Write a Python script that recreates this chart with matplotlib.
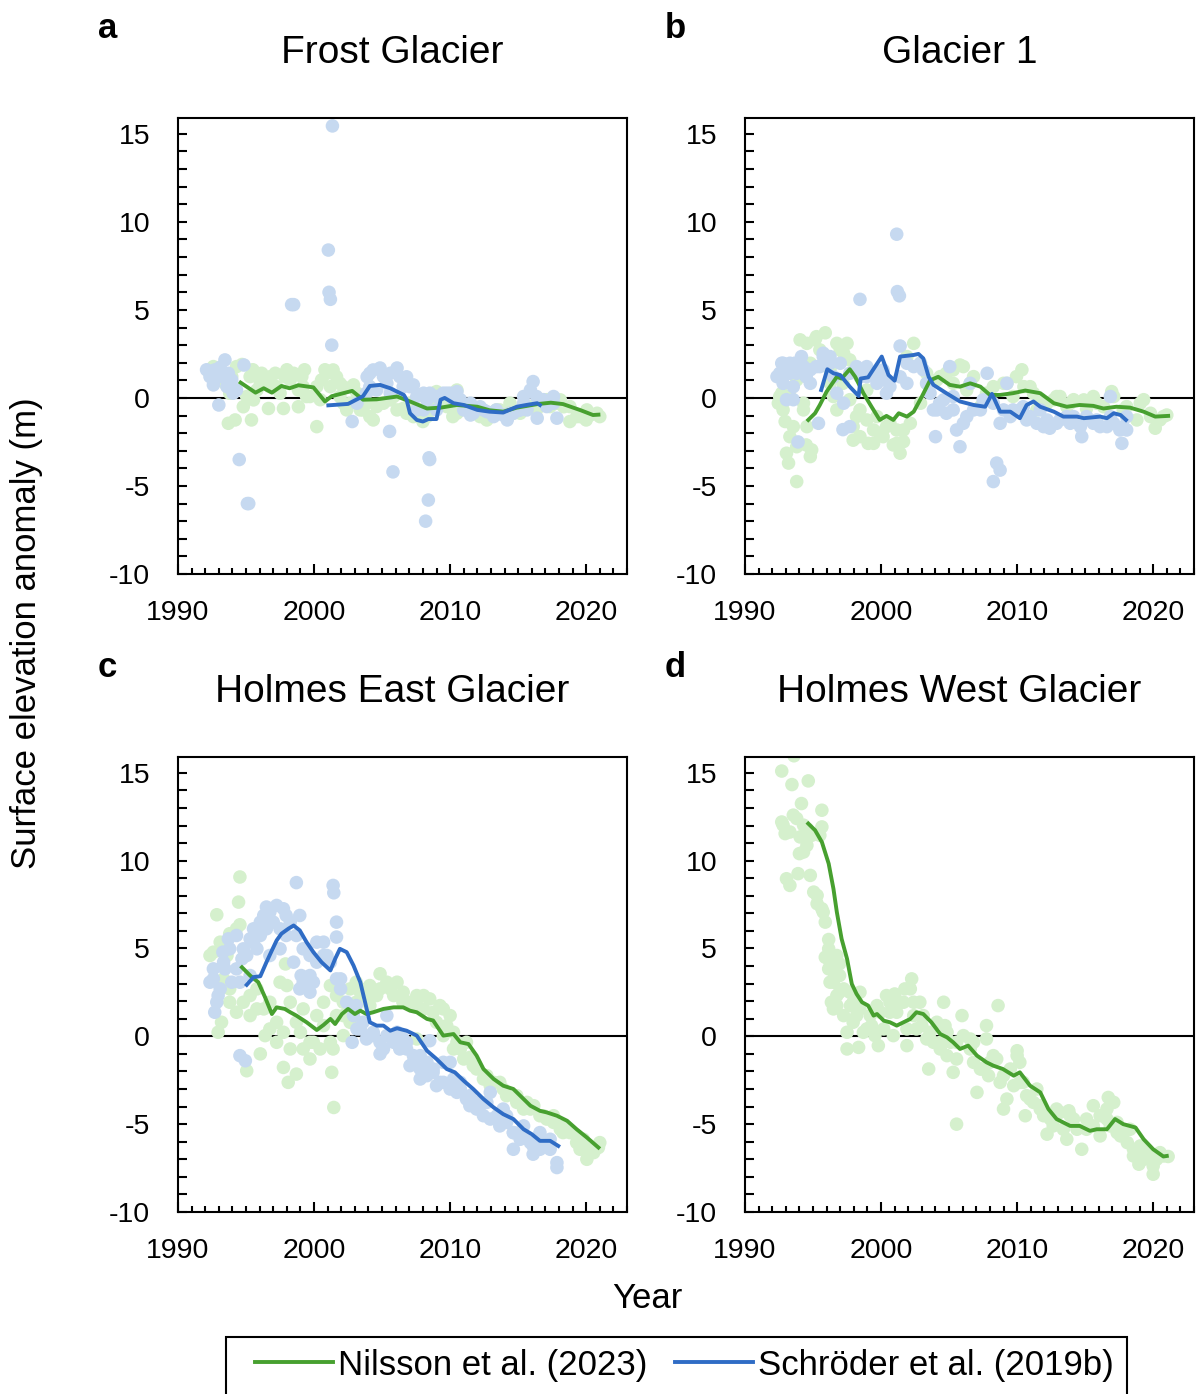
import numpy as np
import matplotlib.pyplot as plt
from matplotlib.ticker import MultipleLocator
from matplotlib.lines import Line2D
from matplotlib.patches import Rectangle

plt.rcParams['font.family'] = ['Liberation Sans', 'DejaVu Sans']
plt.rcParams['axes.unicode_minus'] = False

# ---- data: (year, anomaly in m) ----
titles = ['Frost Glacier', 'Glacier 1', 'Holmes East Glacier', 'Holmes West Glacier']
letters = ['a', 'b', 'c', 'd']
legend_labels = ['Nilsson et al. (2023)', 'Schröder et al. (2019b)']

# Frost Glacier
a_nil_pts = [(1992.35, 1.4), (1993.7, -1.44), (1994.2, -1.25), (1995.4, -1.25), (1994.8, -0.5), (1995.8, 1.4),
             (1996.75, 1.2), (1996.65, -0.6), (1997.75, -0.6), (1998.0, 1.6), (1998.85, -0.5), (1999.3, 1.6),
             (2000.2, -1.63), (2000.8, 1.6), (2001.65, 1.2), (2002.15, 0.64), (2002.9, 0.74), (2004.35, -1.25),
             (2003.4, -0.68), (2006.55, -0.6), (2008.0, -1.34), (2009.0, 0.36), (2010.2, -1.06), (2010.5, 0.45),
             (2012.7, -1.25), (2014.4, -0.3), (2018.8, -1.34), (2020.0, -1.25), (2020.8, -0.87), (2018.35, -0.5),
             (2017.1, -0.1), (1993.1, 1.2), (1993.8, 0.27), (1995.05, 0.08), (1996.05, 0.83), (1997.25, 0.64),
             (1998.25, 1.02), (1999.2, 0.64), (1999.7, 0.08), (2000.45, -0.1), (2001.2, 0.64), (2001.9, 0.08),
             (2002.65, -0.3), (2003.85, -0.3), (2005.1, -0.3), (2005.85, 0.08), (2007.05, -0.3), (2007.55, -0.87),
             (2008.8, 0.27), (2009.5, -0.3), (2011.0, -0.5), (2012.0, -0.87), (2013.4, -0.68), (2014.65, -0.87),
             (2015.9, -0.5), (2016.85, -0.1), (2017.85, -0.3), (2019.3, -1.06), (2020.3, -0.97), (1994.7, 1.9),
             (1995.5, 1.6), (1992.6, 1.78), (1992.85, 1.02), (1993.45, 0.83), (1993.95, 1.21), (1994.3, 1.78),
             (1995.3, 1.21), (1995.8, 0.45), (1995.55, -0.11), (1996.15, 1.4), (1996.75, 0.64), (1997.15, 1.4),
             (1997.5, 0.27), (1997.85, 1.21), (1998.5, 1.4), (1998.85, 0.45), (1999.1, 1.21), (1999.45, 0.08),
             (2000.2, 0.64), (2000.55, 1.02), (2000.95, 1.4), (2001.4, 1.59), (2001.9, 0.83), (2002.15, -0.3),
             (2002.4, -0.68), (2003.15, 0.27), (2003.6, -0.68), (2004.1, -1.06), (2004.6, -0.49), (2005.6, -0.11),
             (2006.1, -0.68), (2006.8, -0.87), (2007.3, -1.06), (2007.8, -0.68), (2008.3, -1.06), (2008.8, -0.3),
             (2009.25, 0.08), (2009.75, -0.49), (2010.5, -0.87), (2011.45, -0.68), (2012.2, -1.06), (2012.95, -0.87),
             (2013.65, -0.68), (2014.15, -1.06), (2015.15, -0.87), (2016.35, -0.68), (2017.35, -0.49),
             (2018.1, -0.11), (2018.8, -0.49), (2019.55, -1.06), (2020.05, -0.68), (2021.0, -1.06)]
a_sch_pts = [(2001.35, 15.45), (2001.05, 8.4), (2001.1, 6.0), (2001.2, 5.6), (2001.3, 3.0), (1998.35, 5.3),
             (1998.5, 5.3), (1993.1, 1.74), (1993.45, 2.16), (1992.6, 0.74), (1993.0, -0.4), (1994.3, 0.45),
             (1994.85, 1.87), (1994.5, -3.5), (1995.1, -6.0), (1995.2, -6.0), (2002.8, -1.34), (2005.55, -1.9),
             (2005.8, -4.2), (2008.5, -3.5), (2008.45, -3.4), (2008.4, -5.8), (2008.2, -7.0), (2004.1, 1.4),
             (2004.85, 1.7), (2006.1, 1.7), (2006.8, 1.2), (2007.3, 0.74), (2005.35, 0.83), (2003.9, 1.2),
             (2010.0, 0.27), (2010.5, 0.36), (2008.5, 0.27), (2011.5, -0.97), (2014.2, -1.25), (2016.1, 0.93),
             (2015.9, 0.45), (2016.4, -1.15), (2017.6, 0.08), (2017.85, -1.15), (2015.1, -0.7), (2012.7, -0.78),
             (2011.5, -0.3), (2003.15, -0.3), (2004.6, 0.45), (2006.55, 0.64), (2007.55, 0.08), (2008.05, -0.68),
             (2009.0, -0.68), (2009.5, 0.27), (2010.75, -0.1), (2012.2, -0.5), (2013.4, -0.68), (2014.4, -0.87),
             (2015.4, -0.3), (2016.85, -0.1), (1992.1, 1.6), (1993.7, 1.4), (1994.05, 0.27), (1992.35, 1.21),
             (1992.7, 1.59), (1993.2, 1.21), (1993.6, 0.64), (1993.95, 1.02), (2004.1, 0.64), (2004.35, 1.59),
             (2005.1, 1.21), (2005.6, 1.4), (2006.3, 1.21), (2007.05, 0.64), (2003.85, 0.27), (2005.6, 0.27),
             (2008.3, -0.11), (2009.0, 0.08), (2009.75, 0.27), (2010.25, -0.11), (2011.0, -0.68), (2011.7, -0.87),
             (2012.45, -0.68), (2013.2, -1.06), (2013.9, -0.97), (2014.65, -0.87), (2015.65, -0.68),
             (2016.35, 0.08), (2017.1, -0.49), (2017.6, -0.3), (2015.4, 0.08), (2007.55, -0.68), (2008.05, 0.27)]
a_nil_line = [(1994.6, 0.87), (1995.7, 0.3), (1996.3, 0.55), (1996.9, 0.3), (1997.6, 0.68), (1998.2, 0.55),
              (1998.85, 0.72), (1999.95, 0.6), (2000.8, -0.2), (2001.3, 0.1), (2002.8, 0.4), (2003.6, -0.1),
              (2004.6, -0.08), (2006.1, 0.08), (2007.05, -0.2), (2008.3, -0.6), (2009.3, -0.55), (2010.5, -0.4),
              (2012.0, -0.5), (2012.9, -0.7), (2013.9, -0.78), (2014.9, -0.55), (2016.4, -0.35), (2017.4, -0.27),
              (2018.3, -0.35), (2019.6, -0.7), (2020.5, -0.97), (2020.9, -0.95)]
a_sch_line = [(2001.05, -0.42), (2002.5, -0.34), (2003.1, -0.1), (2003.6, 0.1), (2004.1, 0.68), (2004.85, 0.74),
              (2005.6, 0.55), (2006.6, 0.17), (2006.8, -0.1), (2007.05, -0.87), (2007.55, -1.25), (2008.0, -1.34),
              (2008.4, -1.2), (2009.0, -1.2), (2009.3, -0.1), (2009.6, 0.0), (2010.25, -0.3), (2011.0, -0.4),
              (2012.0, -0.68), (2012.9, -0.78), (2013.9, -0.83), (2014.9, -0.5), (2015.6, -0.4), (2016.4, -0.3),
              (2016.6, -0.4)]

# Glacier 1
b_nil_pts = [(1994.05, 3.3), (1995.15, 3.3), (1995.9, 3.7), (1997.5, 3.1), (1992.95, -1.34), (1993.55, -1.63),
             (1993.05, -3.14), (1993.2, -3.7), (1993.8, -4.75), (1994.5, -2.67), (1994.8, -3.33), (1992.55, 0.08),
             (1994.3, -0.3), (1996.25, 0.83), (1997.0, 2.73), (1996.75, -0.68), (1997.95, -2.4), (1999.05, -2.58),
             (1999.9, -2.0), (2000.9, -2.67), (2001.4, -3.14), (2001.65, -2.48), (1998.2, -1.06), (1999.45, -1.82),
             (2002.4, 3.1), (2001.9, 2.35), (1998.95, 0.45), (2005.8, 1.87), (2004.8, 1.4), (2006.55, 0.83),
             (2007.3, -0.5), (2010.35, 1.6), (2009.0, 0.83), (2010.5, 0.64), (2013.15, 0.08), (2014.15, -0.1),
             (2015.6, 0.08), (2016.95, 0.36), (2019.3, -0.1), (2018.8, -1.25), (2020.15, -1.72), (2021.0, -0.97),
             (2012.7, -0.1), (2011.45, -0.68), (1992.8, -0.68), (1993.3, 0.08), (1993.8, 1.02), (1994.8, 1.97),
             (1995.5, 2.73), (1996.25, 1.6), (1996.5, 0.08), (1997.2, 0.83), (1997.7, -0.1), (1998.45, -0.68),
             (1998.95, -1.25), (1999.7, -1.06), (2000.4, -1.63), (2001.15, -1.82), (2002.15, -1.44), (2002.9, -0.3),
             (2003.35, 0.83), (2004.1, 1.02), (2005.3, 0.83), (2006.3, 0.45), (2008.25, 0.64), (2009.7, 0.08),
             (2011.2, 0.27), (2012.2, -0.3), (2013.65, -0.5), (2015.1, -0.6), (2016.35, -0.5), (2017.8, -0.68),
             (2019.8, -1.06), (2020.5, -1.25), (1992.45, -0.3), (1992.7, 0.27), (1994.55, 3.1), (1995.25, 3.48),
             (1996.75, 3.1), (1997.25, 2.54), (1997.7, 2.16), (1994.3, -0.68), (1994.55, -1.63), (1994.9, -2.95),
             (1993.3, -2.2), (1993.8, -2.77), (1997.95, -1.63), (1998.45, -2.2), (1999.45, -2.58), (2000.15, -2.2),
             (2000.65, -1.44), (2001.15, -2.58), (2001.65, -1.82), (2002.9, 1.97), (2003.35, 1.4), (2004.35, 1.21),
             (2005.3, 1.59), (2006.05, 1.78), (2006.8, 1.21), (2007.75, 0.27), (2009.25, 0.83), (2009.95, 1.21),
             (2010.95, 0.64), (2011.7, -0.11), (2012.9, 0.08), (2013.9, -0.3), (2014.9, -0.11), (2015.85, -0.3),
             (2017.1, 0.08), (2018.05, -0.49), (2019.05, -0.3), (2019.8, -0.87), (2020.75, -1.06)]
b_sch_pts = [(2001.15, 9.3), (2001.2, 6.04), (2001.35, 5.8), (1998.45, 5.6), (2001.4, 2.95), (1992.7, 1.97),
             (1993.3, 1.4), (1992.8, 0.83), (1993.55, -0.1), (1993.9, -2.5), (1995.4, -1.44), (1997.2, -1.8),
             (1994.15, 2.35), (1994.5, 1.2), (1995.75, 2.35), (1996.25, 1.97), (1997.0, 1.97), (1998.95, 1.78),
             (1997.7, -1.63), (2000.4, 1.02), (2001.9, 0.83), (2004.0, -2.2), (2003.85, -0.68), (2004.8, -0.87),
             (2005.05, 1.78), (2005.8, -2.77), (2005.55, -1.82), (2006.55, 0.83), (2007.8, 1.4), (2008.25, -4.75),
             (2008.5, -3.7), (2008.75, -4.1), (2008.75, -1.44), (2009.25, 0.83), (2011.45, -1.44), (2012.4, -1.72),
             (2013.15, -1.25), (2014.75, -2.2), (2015.6, -1.44), (2016.6, -1.63), (2016.85, 0.08), (2017.7, -2.58),
             (2017.8, -1.63), (2014.15, -1.06), (2015.85, -1.25), (2011.7, -0.68), (2010.45, -0.5), (1993.05, -0.1),
             (1992.55, 1.4), (1993.65, 1.97), (1994.8, 1.6), (1995.5, 1.78), (1996.5, 1.2), (1997.7, 1.4),
             (1998.45, 1.2), (1999.7, 1.4), (2000.4, 0.27), (2001.4, 1.2), (2002.4, 1.78), (2003.1, 1.6),
             (2003.6, 0.27), (2004.3, -0.3), (2005.3, -0.68), (2006.3, -1.06), (2007.3, -0.68), (2008.25, -0.3),
             (2009.7, -0.68), (2010.7, -1.25), (2012.2, -1.25), (2013.9, -1.44), (2015.1, -1.06), (2017.1, -1.44),
             (2018.05, -1.82), (1992.35, 1.21), (1992.8, 1.97), (1993.3, 1.97), (1993.8, 1.4), (1994.3, 1.78),
             (1993.55, 0.64), (1994.8, 0.83), (1995.25, 1.78), (1995.75, 2.54), (1996.25, 2.35), (1996.75, 0.27),
             (1997.25, -0.3), (1998.2, 1.78), (1998.95, 1.21), (1999.7, 0.83), (2000.15, 1.59), (2000.65, 0.64),
             (2001.9, 1.97), (2002.9, 1.97), (2003.35, 0.83), (2004.1, -0.68), (2004.6, -0.11), (2005.3, 0.08),
             (2006.05, -1.44), (2006.8, -0.68), (2007.5, -0.11), (2009.0, -0.68), (2009.5, -1.06), (2010.2, -0.68),
             (2010.95, -1.06), (2011.95, -1.63), (2012.9, -1.44), (2013.65, -1.06), (2014.65, -1.63),
             (2015.35, -1.25), (2016.1, -1.63), (2016.85, -1.06), (2017.55, -1.82), (2018.05, -1.06)]
b_nil_line = [(1994.65, -1.25), (1995.15, -0.87), (1995.5, -0.4), (1996.0, 0.36), (1996.75, 1.2), (1997.1, 1.1),
              (1997.7, 1.63), (1998.1, 1.2), (1998.7, 0.27), (1999.3, -0.5), (1999.9, -1.25), (2000.4, -1.02),
              (2000.9, -1.25), (2001.3, -0.87), (2001.9, -1.06), (2002.4, -0.78), (2003.0, 0.08), (2003.6, 1.0),
              (2004.2, 1.2), (2005.05, 0.74), (2005.8, 0.64), (2006.55, 0.83), (2007.3, 0.64), (2008.0, 0.17),
              (2008.75, 0.17), (2009.7, 0.27), (2010.6, 0.42), (2011.7, 0.27), (2012.7, -0.3), (2013.65, -0.5),
              (2014.6, -0.4), (2015.6, -0.45), (2016.35, -0.6), (2017.3, -0.5), (2018.3, -0.55), (2019.3, -0.78),
              (2020.15, -1.06), (2021.1, -1.02)]
b_sch_line = [(1995.6, 0.45), (1996.05, 1.63), (1996.5, 1.4), (1997.0, 1.3), (1997.7, 0.64), (1998.35, 0.11),
              (1998.5, 1.1), (1999.05, 1.17), (2000.05, 2.35), (2000.55, 1.3), (2001.0, 0.98), (2001.4, 2.35),
              (2002.4, 2.44), (2002.75, 2.5), (2003.1, 2.25), (2003.5, 1.2), (2003.85, 0.74), (2004.8, 0.27),
              (2005.8, -0.2), (2006.8, -0.4), (2007.65, -0.5), (2008.15, 0.23), (2008.75, -0.78), (2009.5, -0.78),
              (2010.2, -1.15), (2010.7, -0.4), (2011.2, -0.2), (2011.7, -0.5), (2012.7, -0.78), (2013.4, -1.06),
              (2014.4, -1.06), (2014.9, -1.15), (2016.1, -1.06), (2016.6, -1.15), (2017.1, -0.87), (2017.6, -0.97),
              (2018.0, -1.25)]

# Holmes East Glacier
c_nil_pts = [(1994.55, 9.07), (1994.45, 7.64), (1992.85, 6.92), (1994.55, 6.35), (1992.6, 4.79), (1993.8, 5.84),
             (1992.95, 0.23), (1993.2, 0.8), (1994.3, 1.37), (1995.05, -1.96), (1996.05, -1.0), (1996.4, 0.04),
             (1997.75, -1.77), (1998.1, -2.62), (1998.7, -2.15), (1997.9, 4.12), (1998.0, 2.89), (1999.2, -0.72),
             (1999.7, -1.29), (2001.4, -0.72), (2001.3, -2.05), (2001.45, -4.05), (2001.2, 2.89), (2002.15, 1.94),
             (2004.85, 3.56), (2006.1, 3.08), (2007.55, 2.32), (2008.5, 2.13), (2009.5, 1.56), (2010.0, 1.18),
             (2010.5, -0.34), (2011.45, -1.2), (2012.7, -2.24), (2013.65, -2.62), (2014.9, -3.38), (2015.65, -3.76),
             (2016.85, -4.52), (2017.6, -4.9), (2018.3, -5.48), (2019.3, -6.05), (2020.05, -7.0), (2020.9, -6.33),
             (2021.0, -6.05), (2007.55, -0.15), (2004.1, 2.89), (2006.55, 2.51), (2003.1, 1.94), (2004.1, 1.75),
             (1993.35, 3.27), (1993.8, 2.7), (1995.3, 2.32), (1995.8, 1.56), (1996.75, 1.94), (1997.25, 0.8),
             (1997.5, 3.08), (1998.25, 1.94), (1999.0, 0.23), (1999.95, -0.34), (2000.2, 1.18), (2000.7, 1.94),
             (2001.65, 2.32), (2002.15, 1.18), (2002.65, 0.8), (2003.1, 3.08), (2003.85, 2.7), (2004.6, 2.32),
             (2005.6, 2.7), (2006.55, 1.94), (2007.05, 1.94), (2008.05, 1.56), (2009.0, 0.8), (2009.5, 0.04),
             (2010.25, -0.72), (2011.0, -1.29), (2011.95, -1.86), (2012.95, -2.81), (2013.9, -3.0), (2014.9, -3.76),
             (2015.9, -4.14), (2017.1, -4.71), (2018.3, -5.1), (2019.3, -5.67), (2020.3, -6.43), (1992.35, 4.6),
             (1993.1, 5.36), (1993.6, 4.6), (1994.3, 6.12), (1993.8, 1.94), (1994.8, 1.94), (1995.3, 1.18),
             (1995.8, 2.7), (1996.3, 1.56), (1996.75, 0.42), (1997.25, -0.34), (1997.75, 0.23), (1998.25, -0.72),
             (1998.7, 0.8), (1999.2, 1.56), (1999.7, -0.34), (2000.45, -0.72), (2000.7, 0.61), (2001.2, -0.34),
             (2001.65, 1.18), (2002.15, 0.04), (2002.65, 2.7), (2003.4, 2.51), (2004.1, 2.32), (2004.85, 2.7),
             (2005.35, 3.08), (2005.85, 2.32), (2006.55, 1.94), (2007.55, 1.75), (2008.05, 2.32), (2008.75, 1.37),
             (2009.25, 1.75), (2009.75, 0.61), (2010.25, 0.23), (2010.75, -0.72), (2011.2, -0.34), (2011.7, -1.67),
             (2012.45, -2.43), (2013.2, -2.62), (2014.15, -3.38), (2014.9, -3.57), (2015.4, -4.14), (2016.15, -3.95),
             (2016.6, -4.52), (2017.6, -4.52), (2018.1, -5.29), (2018.8, -5.48), (2019.55, -6.43), (2019.8, -5.86),
             (2020.55, -6.62)]
c_sch_pts = [(1998.7, 8.75), (2001.4, 8.59), (2001.45, 8.17), (2001.65, 6.5), (2001.65, 5.65), (1997.25, 7.45),
             (1996.5, 7.36), (1996.05, 6.5), (1997.95, 6.88), (1995.3, 5.55), (1993.7, 5.55), (1993.3, 4.79),
             (1993.45, 3.84), (1992.6, 3.27), (1992.95, 2.32), (1992.7, 1.37), (1994.55, -1.1), (1994.95, -1.39),
             (1994.7, 4.41), (1999.05, 3.46), (1999.7, 2.51), (2000.7, 5.36), (2001.95, 3.27), (2002.8, -0.34),
             (2004.1, 0.04), (2004.85, -1.0), (2006.55, -0.15), (2007.05, -1.67), (2007.8, -2.43), (2008.5, -0.25),
             (2009.0, -2.81), (2010.0, -1.48), (2010.5, -3.19), (2011.45, -3.95), (2012.45, -4.52), (2012.95, -3.19),
             (2013.9, -4.14), (2014.65, -6.43), (2015.15, -5.86), (2016.1, -6.71), (2016.6, -5.48), (2017.35, -6.43),
             (2017.85, -7.47), (2017.85, -7.19), (2003.1, 1.75), (2005.35, 1.18), (2006.1, 0.23), (2003.6, 0.8),
             (2009.5, -1.48), (2011.95, -3.76), (1995.55, 6.12), (1996.3, 6.88), (1996.75, 7.07), (1997.75, 7.26),
             (1998.25, 6.5), (1998.7, 5.74), (1999.45, 4.98), (2000.2, 4.22), (2000.95, 4.6), (1999.7, 3.46),
             (1999.2, 3.08), (1998.5, 4.22), (1997.5, 4.98), (1996.75, 4.6), (1995.8, 4.98), (1995.05, 4.6),
             (1994.3, 3.84), (1993.95, 3.08), (1993.1, 2.7), (1992.6, 3.84), (2001.95, 2.7), (2002.4, 1.94),
             (2002.9, 1.18), (2003.4, 0.42), (2004.35, 0.04), (2004.85, -0.34), (2005.35, 0.04), (2006.3, -0.72),
             (2006.8, -0.34), (2007.3, -1.1), (2007.8, -1.86), (2008.3, -1.48), (2008.75, -2.05), (2009.5, -2.62),
             (2010.25, -2.43), (2010.75, -3.0), (2011.45, -3.38), (2012.2, -3.95), (2012.95, -4.71), (2013.65, -5.1),
             (2014.15, -4.52), (2014.65, -5.48), (2015.4, -5.67), (2016.1, -6.24), (2016.85, -6.05), (2017.35, -6.24),
             (1992.35, 3.08), (1992.85, 1.94), (1993.35, 4.22), (1993.8, 4.98), (1994.3, 5.74), (1994.8, 4.98),
             (1995.55, 5.36), (1996.05, 5.74), (1996.5, 6.12), (1997.0, 6.5), (1997.5, 6.12), (1997.95, 5.74),
             (1998.95, 6.88), (1999.2, 4.98), (1999.7, 4.6), (2000.2, 5.36), (2000.7, 4.6), (2001.2, 4.22),
             (2001.65, 3.27), (1999.95, 3.08), (1998.95, 2.7), (1995.3, 3.46), (1994.55, 3.08), (2003.15, 0.42),
             (2003.85, -0.15), (2004.35, 0.23), (2005.1, -0.72), (2005.85, -0.34), (2006.3, 0.04), (2006.8, -0.72),
             (2007.3, -1.48), (2007.8, -1.1), (2008.3, -2.24), (2008.75, -1.86), (2009.25, -2.62), (2010.0, -3.0),
             (2010.75, -2.62), (2011.2, -3.57), (2011.95, -4.14), (2012.7, -3.76), (2013.45, -4.52), (2014.15, -4.9),
             (2014.65, -5.48), (2015.4, -5.1), (2015.9, -6.05), (2016.6, -6.43), (2017.35, -5.86)]
c_nil_line = [(1994.7, 3.93), (1995.3, 3.46), (1995.9, 3.08), (1996.4, 2.22), (1996.9, 1.27), (1997.25, 1.65),
              (1997.85, 1.56), (1998.25, 1.37), (1998.7, 1.18), (1999.45, 0.8), (2000.2, 0.36), (2000.7, 0.65),
              (2001.2, 0.99), (2001.55, 0.7), (2002.05, 1.27), (2002.5, 1.56), (2003.0, 1.27), (2003.4, 1.46),
              (2003.85, 1.27), (2004.35, 1.37), (2005.1, 1.56), (2005.85, 1.65), (2006.55, 1.65), (2007.05, 1.46),
              (2007.55, 1.37), (2008.3, 0.99), (2008.75, 0.9), (2009.5, 0.04), (2010.25, 0.13), (2010.75, -0.34),
              (2011.35, -0.44), (2011.95, -1.1), (2012.45, -1.86), (2013.2, -2.43), (2013.9, -2.81), (2014.65, -3.0),
              (2015.15, -3.38), (2015.9, -3.95), (2016.6, -4.24), (2017.1, -4.33), (2017.85, -4.52), (2018.6, -4.81),
              (2019.3, -5.29), (2020.05, -5.76), (2020.9, -6.33)]
c_sch_line = [(1995.05, 2.93), (1995.55, 3.37), (1996.05, 3.42), (1996.5, 4.22), (1996.9, 4.89), (1997.25, 5.46),
              (1997.6, 5.84), (1998.1, 6.12), (1998.5, 6.31), (1998.95, 6.03), (1999.45, 5.36), (1999.95, 4.79),
              (2000.55, 4.22), (2001.2, 3.75), (2001.55, 4.41), (2001.9, 4.98), (2002.4, 4.79), (2002.9, 4.03),
              (2003.4, 3.08), (2003.75, 1.94), (2004.1, 0.8), (2004.6, 0.61), (2005.1, 0.61), (2005.6, 0.32),
              (2006.1, 0.46), (2006.8, 0.32), (2007.55, 0.04), (2008.3, -0.82), (2009.0, -1.29), (2009.75, -1.86),
              (2010.35, -2.05), (2011.0, -2.53), (2011.7, -3.0), (2012.45, -3.57), (2013.2, -4.05), (2013.9, -4.43),
              (2014.65, -4.71), (2015.4, -5.29), (2016.0, -5.57), (2016.6, -5.95), (2017.35, -5.95), (2017.95, -6.24)]

# Holmes West Glacier (Nilsson only)
d_nil_pts = [(1993.6, 15.97), (1992.7, 15.1), (1993.45, 14.33), (1994.65, 14.54), (1994.15, 13.25), (1995.65, 12.87),
             (1992.7, 12.2), (1993.8, 12.4), (1992.95, 11.54), (1994.05, 11.35), (1994.55, 11.82), (1995.65, 11.92),
             (1994.0, 10.4), (1993.05, 8.97), (1993.9, 9.26), (1993.3, 8.59), (1995.05, 8.21), (1995.3, 7.55),
             (1995.75, 7.07), (1996.15, 5.51), (1995.9, 4.5), (1996.15, 3.84), (1996.95, 4.13), (1996.5, 3.08),
             (1996.35, 1.94), (1996.5, 1.56), (1997.5, 0.23), (1997.5, -0.72), (1998.35, -0.63), (1997.75, 1.75),
             (1998.45, 2.51), (1999.7, 1.75), (1999.8, -0.53), (2000.9, 0.04), (2001.0, 2.41), (2001.75, 2.7),
             (2002.25, 3.27), (2002.85, 1.94), (2001.9, -0.53), (2003.5, -1.86), (2004.6, 1.94), (2004.7, 0.61),
             (2005.95, 1.18), (2005.55, -5.0), (2005.3, -2.05), (2007.05, -3.19), (2007.75, 0.61), (2008.6, 1.75),
             (2007.9, -2.24), (2009.0, -4.14), (2010.0, -0.82), (2010.6, -4.52), (2011.7, -4.14), (2012.2, -5.57),
             (2013.65, -5.86), (2013.8, -4.24), (2014.75, -6.43), (2015.6, -3.95), (2016.7, -3.48), (2016.6, -4.71),
             (2017.6, -5.67), (2018.8, -6.71), (2018.95, -7.28), (2020.0, -7.85), (2019.75, -7.0), (2021.1, -6.84),
             (1996.25, 3.08), (1996.75, 2.32), (1996.95, 3.46), (1997.25, 2.7), (1997.95, 0.8), (1998.2, 1.18),
             (1998.95, 0.42), (1999.3, 0.61), (1999.55, 0.04), (2000.4, 2.32), (2000.65, 1.37), (2001.4, 1.94),
             (2001.9, 0.42), (2002.4, 1.18), (2003.0, 0.61), (2003.35, -0.15), (2003.85, -0.34), (2004.35, -0.72),
             (2004.85, -1.1), (2005.55, -0.34), (2006.55, -0.15), (2006.8, -1.48), (2007.4, -1.86), (2008.25, -1.1),
             (2008.75, -2.62), (2009.25, -3.57), (2010.0, -1.1), (2010.2, -2.62), (2010.7, -3.38), (2011.2, -3.76),
             (2011.95, -4.52), (2012.65, -5.1), (2013.15, -4.33), (2014.15, -4.71), (2015.1, -5.29), (2016.1, -5.67),
             (2017.1, -3.76), (2017.35, -5.48), (2018.1, -6.05), (2018.55, -6.43), (2019.3, -7.0), (2020.25, -7.0),
             (2020.5, -6.62), (1992.8, 12.02), (1993.3, 11.63), (1993.55, 12.59), (1994.3, 12.02), (1994.9, 11.44),
             (1995.5, 11.44), (1994.55, 10.87), (1994.3, 10.49), (1994.8, 9.16), (1995.3, 8.02), (1995.65, 7.26),
             (1995.9, 6.5), (1996.15, 4.98), (1996.25, 4.22), (1996.75, 4.6), (1996.6, 3.46), (1996.95, 2.51),
             (1996.75, 1.75), (1997.25, 1.18), (1997.7, 2.51), (1997.95, 1.94), (1998.45, 1.56), (1998.7, 0.23),
             (1999.2, 1.18), (1999.95, 1.37), (2000.2, 0.42), (2000.65, 1.94), (2001.15, 1.37), (2001.65, 1.94),
             (2002.15, 2.7), (2002.4, 1.94), (2002.6, 0.42), (2003.1, 1.18), (2003.6, 0.23), (2004.1, 0.8),
             (2004.35, -0.34), (2004.85, 0.23), (2005.1, -0.34), (2005.55, -1.29), (2006.05, 0.04), (2006.55, -0.72),
             (2006.8, -0.34), (2007.3, -1.86), (2007.75, -0.15), (2008.0, -1.48), (2008.5, -1.29), (2009.0, -2.24),
             (2009.5, -1.86), (2009.75, -2.81), (2010.2, -1.48), (2010.45, -2.62), (2010.95, -3.57), (2011.45, -3.0),
             (2011.7, -3.95), (2012.45, -4.71), (2012.9, -4.14), (2013.4, -5.29), (2013.9, -4.52), (2014.4, -5.29),
             (2015.1, -4.71), (2015.6, -5.1), (2016.1, -4.52), (2016.6, -4.14), (2016.85, -5.1), (2017.35, -4.9),
             (2017.8, -5.48), (2018.3, -5.29), (2018.55, -6.81), (2019.05, -6.24), (2019.55, -6.62), (2020.0, -7.38),
             (2020.75, -6.81)]
d_nil_line = [(1994.65, 12.11), (1995.15, 11.73), (1995.65, 11.06), (1996.15, 9.83), (1996.5, 8.4), (1996.75, 7.07),
              (1997.1, 5.55), (1997.5, 4.41), (1997.85, 2.98), (1998.2, 2.41), (1998.6, 1.94), (1999.05, 1.75),
              (1999.45, 1.18), (1999.7, 1.27), (2000.2, 0.89), (2000.65, 0.8), (2001.15, 0.61), (2001.65, 0.8),
              (2002.15, 0.99), (2002.6, 1.37), (2003.1, 1.27), (2003.7, 0.8), (2004.35, 0.13), (2004.85, -0.06),
              (2005.3, -0.34), (2005.8, -0.72), (2006.4, -0.53), (2007.05, -1.1), (2007.75, -1.48), (2008.25, -1.67),
              (2008.95, -1.86), (2009.75, -2.24), (2010.2, -2.05), (2010.95, -2.81), (2011.7, -3.19), (2012.3, -4.14),
              (2012.9, -4.71), (2013.9, -5.1), (2014.6, -5.1), (2015.35, -5.38), (2015.85, -5.29), (2016.6, -5.29),
              (2017.2, -4.71), (2017.8, -5.0), (2018.7, -5.19), (2019.3, -5.86), (2020.0, -6.43), (2020.75, -6.84),
              (2021.0, -6.81)]

panels = [
    (a_nil_pts, a_sch_pts, a_nil_line, a_sch_line),
    (b_nil_pts, b_sch_pts, b_nil_line, b_sch_line),
    (c_nil_pts, c_sch_pts, c_nil_line, c_sch_line),
    (d_nil_pts, None, d_nil_line, None),
]

# ---- styling ----
W, H = 1197, 1394
green_dot, blue_dot = '#d5f0cd', '#c6d9f0'
green_line, blue_line = '#47a02f', '#2f6cc5'
LW = 2.8

# axes boxes in pixels: left, top, right, bottom
boxes = [(178, 118, 627, 574), (745, 118, 1194, 574),
         (178, 757, 627, 1212), (745, 757, 1194, 1212)]

fig = plt.figure(figsize=(W / 100, H / 100), dpi=100)

for i, (box, data) in enumerate(zip(boxes, panels)):
    l, t, r, b = box
    ax = fig.add_axes([l / W, 1 - b / H, (r - l) / W, (b - t) / H])
    nil_pts, sch_pts, nil_line, sch_line = data

    ax.axhline(0, color='black', lw=1.5, zorder=1)
    x, y = np.array(nil_pts).T
    ax.scatter(x, y, s=95, color=green_dot, edgecolors='none', zorder=2)
    if sch_pts is not None:
        x, y = np.array(sch_pts).T
        ax.scatter(x, y, s=95, color=blue_dot, edgecolors='none', zorder=2)
    x, y = np.array(nil_line).T
    ax.plot(x, y, color=green_line, lw=LW, zorder=3)
    if sch_line is not None:
        x, y = np.array(sch_line).T
        ax.plot(x, y, color=blue_line, lw=LW, zorder=3)

    ax.set_xlim(1990, 2023)
    ax.set_ylim(-10, 15.9)
    ax.xaxis.set_major_locator(MultipleLocator(10))
    ax.xaxis.set_minor_locator(MultipleLocator(1))
    ax.yaxis.set_major_locator(MultipleLocator(5))
    ax.yaxis.set_minor_locator(MultipleLocator(1))
    ax.tick_params(which='both', direction='in', width=1.5, labelsize=20.5, top=False, right=False)
    ax.tick_params(axis='x', which='major', length=7, pad=19)
    ax.tick_params(axis='x', which='minor', length=4.5)
    ax.tick_params(axis='y', which='major', length=6.5, pad=20)
    ax.tick_params(axis='y', which='minor', length=6.5)
    for sp in ax.spines.values():
        sp.set_linewidth(1.5)

    cx = (l + r) / 2 - 10
    fig.text(cx / W, 1 - (t - 55) / H, titles[i], ha='center', va='baseline', fontsize=28)
    fig.text((l - 80) / W, 1 - (t - 80) / H, letters[i], ha='left', va='baseline',
             fontsize=25, fontweight='bold')

fig.text(27 / W, 1 - 633 / H, 'Surface elevation anomaly (m)', rotation=90,
         ha='center', va='center', fontsize=25)
fig.text(647 / W, 1 - 1308 / H, 'Year', ha='center', va='baseline', fontsize=25)

# legend: frame drawn separately, it runs off the bottom of the figure
fig.patches.append(Rectangle((226 / W, 1 - 1420 / H), (1127 - 226) / W, (1420 - 1337) / H,
                             transform=fig.transFigure, facecolor='white', edgecolor='black', lw=1.5))
handles = [Line2D([], [], color=green_line, lw=LW), Line2D([], [], color=blue_line, lw=LW)]
fig.legend(handles, legend_labels, loc='center left', bbox_to_anchor=(255 / W, 1 - 1365 / H),
           ncol=2, fontsize=25, frameon=False, handlelength=2.25, handletextpad=0.15,
           columnspacing=0.78, borderpad=0, borderaxespad=0)

fig.savefig('out.png', dpi=100)
